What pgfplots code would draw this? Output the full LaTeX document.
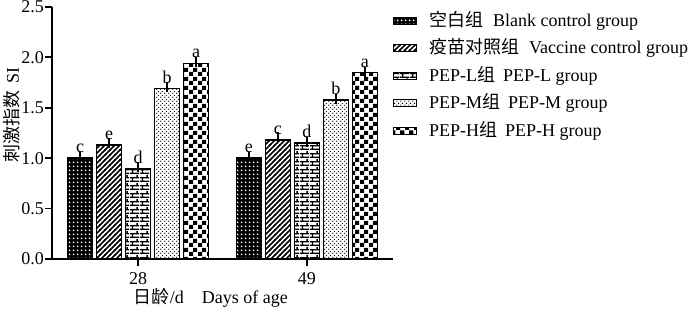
\documentclass[border=0pt]{standalone}
\usepackage{fontspec}
\setmainfont{Liberation Serif}
\newfontfamily\cjk{Noto Sans CJK SC}
\usepackage{pgfplots}
\usepackage{pgfplotstable}
\pgfplotsset{compat=1.18}
\usetikzlibrary{patterns}

% custom patterns
\pgfdeclarepatternformonly{mydots}{\pgfpointorigin}{\pgfqpoint{3.6pt}{3.6pt}}{\pgfqpoint{3.6pt}{3.6pt}}{%
  \pgfpathcircle{\pgfqpoint{1.8pt}{1.8pt}}{1.05pt}\pgfusepath{fill}}
\pgfdeclarepatternformonly{mylines}{\pgfqpoint{-1pt}{-1pt}}{\pgfqpoint{6pt}{6pt}}{\pgfqpoint{5pt}{5pt}}{%
  \pgfsetlinewidth{1.5pt}%
  \pgfpathmoveto{\pgfqpoint{-0.5pt}{-0.5pt}}\pgfpathlineto{\pgfqpoint{5.5pt}{5.5pt}}\pgfusepath{stroke}}
\pgfdeclarepatternformonly{mybricks}{\pgfpointorigin}{\pgfqpoint{10pt}{8pt}}{\pgfqpoint{10pt}{8pt}}{%
  \pgfpathrectangle{\pgfqpoint{0pt}{0pt}}{\pgfqpoint{10pt}{1.5pt}}%
  \pgfpathrectangle{\pgfqpoint{0pt}{4pt}}{\pgfqpoint{10pt}{1.5pt}}%
  \pgfpathrectangle{\pgfqpoint{2pt}{1.5pt}}{\pgfqpoint{1.5pt}{2.5pt}}%
  \pgfpathrectangle{\pgfqpoint{7pt}{5.5pt}}{\pgfqpoint{1.5pt}{2.5pt}}%
  \pgfusepath{fill}}
\pgfdeclarepatternformonly{mysmalldots}{\pgfpointorigin}{\pgfqpoint{4pt}{4pt}}{\pgfqpoint{4pt}{4pt}}{%
  \pgfpathcircle{\pgfqpoint{1pt}{1pt}}{0.8pt}%
  \pgfpathcircle{\pgfqpoint{3pt}{3pt}}{0.8pt}\pgfusepath{fill}}
\pgfdeclarepatternformonly{mycheck}{\pgfpointorigin}{\pgfqpoint{9pt}{9pt}}{\pgfqpoint{9pt}{9pt}}{%
  \pgfpathrectangle{\pgfpointorigin}{\pgfqpoint{4.5pt}{4.5pt}}%
  \pgfpathrectangle{\pgfqpoint{4.5pt}{4.5pt}}{\pgfqpoint{4.5pt}{4.5pt}}\pgfusepath{fill}}

\pgfplotstableread{
x y e l
0 1.00 0.010 c
1 1.00 0.012 e
}\blank
\pgfplotstableread{
x y e l
0 1.13 0.020 e
1 1.18 0.030 c
}\vaccine
\pgfplotstableread{
x y e l
0 0.89 0.020 d
1 1.15 0.012 d
}\pepl
\pgfplotstableread{
x y e l
0 1.69 0.012 b
1 1.58 0.010 b
}\pepm
\pgfplotstableread{
x y e l
0 1.94 0.010 a
1 1.85 0.010 a
}\peph

\begin{document}
\begin{tikzpicture}[font=\fontsize{18}{21}\selectfont]
\useasboundingbox (0,0) rectangle (700pt,310pt);
\begin{axis}[
  at={(52pt,51pt)}, anchor=south west,
  scale only axis, width=341pt, height=252pt,
  ybar=4pt, bar width=25pt,
  xmin=-0.51, xmax=1.51, ymin=0, ymax=2.5,
  enlargelimits=false,
  axis x line*=bottom, axis y line*=left,
  axis line style={line width=1.8pt},
  tick style={line width=1.8pt, black},
  tick align=outside, major tick length=7pt,
  xtick={0,1}, xticklabels={28,49},
  ytick={0,0.5,1,1.5,2,2.5},
  /pgf/number format/assume math mode=true,
  yticklabel style={/pgf/number format/.cd, fixed, fixed zerofill, precision=1, /tikz/.cd, xshift=2.5pt},
  xticklabel style={yshift=-3pt},
  ticklabel style={font=\fontsize{18}{21}\selectfont},
  xlabel={{\cjk 日龄}/d\hspace{1em}Days of age},
  ylabel={{\cjk 刺激指数}\hspace{0.4em}SI},
  xlabel style={at={(axis description cs:0.466,-0.155)}, anchor=center},
  ylabel style={at={(axis description cs:-0.117,0.572)}, anchor=center},
  point meta=explicit symbolic,
  nodes near coords,
  every node near coord/.append style={font=\fontsize{18}{21}\selectfont, anchor=south, inner sep=1pt, yshift=3.5pt},
  error bars/y dir=plus, error bars/y explicit,
  error bars/error bar style={line width=1.5pt, black},
  error bars/error mark options={line width=1.5pt, black, mark size=5pt},
  every axis plot post/.append style={
    legend image code/.code={\draw[##1, line width=1pt] (0pt,2pt) rectangle (23pt,9pt);}},
  legend style={draw=none, fill=none, at={(0.991,0.984)}, anchor=north west,
    font=\fontsize{18}{21}\selectfont, row sep=10.5pt,
    nodes={inner sep=0pt, text height=13pt, text depth=4pt, anchor=base west},
    /tikz/every odd column/.append style={column sep=12pt}},
  legend cell align=left,
]
\addplot[draw=black, line width=1.6pt, fill=black, postaction={pattern=mydots, pattern color=white}]
  table[x=x, y=y, y error=e, meta=l] {\blank};
\addlegendentry{{\cjk 空白组}\hspace{10pt}Blank control group}
\addplot[draw=black, line width=1.6pt, fill=white, postaction={pattern=mylines, pattern color=black}]
  table[x=x, y=y, y error=e, meta=l] {\vaccine};
\addlegendentry{{\cjk 疫苗对照组}\hspace{10pt}Vaccine control group}
\addplot[draw=black, line width=1.6pt, fill=white, postaction={pattern=mybricks, pattern color=black}]
  table[x=x, y=y, y error=e, meta=l] {\pepl};
\addlegendentry{PEP-L{\cjk 组}\hspace{8pt}PEP-L group}
\addplot[draw=black, line width=1.6pt, fill=white, postaction={pattern=mysmalldots, pattern color=black}]
  table[x=x, y=y, y error=e, meta=l] {\pepm};
\addlegendentry{PEP-M{\cjk 组}\hspace{8pt}PEP-M group}
\addplot[draw=black, line width=1.6pt, fill=white, postaction={pattern=mycheck, pattern color=black}]
  table[x=x, y=y, y error=e, meta=l] {\peph};
\addlegendentry{PEP-H{\cjk 组}\hspace{8pt}PEP-H group}
\end{axis}
\end{tikzpicture}
\end{document}
